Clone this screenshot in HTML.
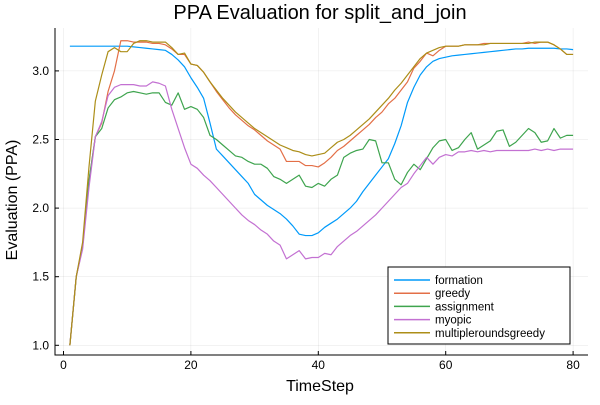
<!DOCTYPE html>
<html><head><meta charset="utf-8"><style>
body{margin:0;background:#fff}
svg{font-family:"Liberation Sans",sans-serif}
</style></head><body>
<svg id="chart" width="600" height="400" viewBox="0 0 600 400" xmlns="http://www.w3.org/2000/svg">
<rect width="600" height="400" fill="#fff"/>
<text x="320" y="19" font-size="20" text-anchor="middle" fill="#000">PPA Evaluation for split_and_join</text>
<g id="grid"></g>
<g id="axes"></g>
<g id="series"></g>
<text x="320" y="391" font-size="16" text-anchor="middle">TimeStep</text>
<text transform="translate(17,200) rotate(-90)" font-size="16" text-anchor="middle">Evaluation (PPA)</text>
<g id="legend"></g>
</svg>
<script>
const xTicks=[0,20,40,60,80];
const yTicks=[1.0,1.5,2.0,2.5,3.0];
const yTickLabels=["1.0","1.5","2.0","2.5","3.0"];
const seriesNames=["formation","greedy","assignment","myopic","multipleroundsgreedy"];
const seriesColors=["#009AFA","#E36F47","#3EA44E","#C371D2","#AC8E18"];
const formation=[3.18,3.18,3.18,3.18,3.18,3.18,3.18,3.18,3.18,3.18,3.175,3.17,3.165,3.16,3.155,3.15,3.12,3.08,3.03,2.95,2.88,2.80,2.62,2.43,2.38,2.33,2.28,2.23,2.18,2.10,2.06,2.02,1.99,1.96,1.92,1.87,1.81,1.80,1.80,1.82,1.86,1.89,1.92,1.96,2.00,2.05,2.12,2.18,2.24,2.30,2.36,2.47,2.60,2.77,2.88,2.97,3.03,3.07,3.09,3.10,3.11,3.115,3.12,3.125,3.13,3.135,3.14,3.145,3.15,3.155,3.16,3.16,3.165,3.165,3.165,3.165,3.165,3.16,3.16,3.155];
const greedy=[1.0,1.5,1.72,2.2,2.52,2.62,2.85,3.0,3.22,3.22,3.21,3.21,3.21,3.2,3.2,3.19,3.16,3.12,3.12,3.05,3.04,2.99,2.92,2.85,2.79,2.73,2.68,2.64,2.60,2.57,2.53,2.49,2.46,2.43,2.34,2.34,2.34,2.31,2.31,2.30,2.33,2.37,2.42,2.45,2.49,2.53,2.57,2.61,2.66,2.70,2.76,2.80,2.86,2.92,3.02,3.07,3.13,3.11,3.15,3.18,3.18,3.18,3.19,3.19,3.19,3.2,3.2,3.2,3.2,3.2,3.2,3.2,3.21,3.2,3.21,3.21,3.19,3.16,3.12,3.12];
const assignment=[1.0,1.5,1.72,2.2,2.52,2.58,2.73,2.79,2.81,2.84,2.85,2.84,2.83,2.84,2.84,2.77,2.75,2.84,2.72,2.74,2.72,2.66,2.53,2.50,2.46,2.42,2.38,2.37,2.34,2.32,2.32,2.29,2.23,2.21,2.18,2.21,2.24,2.16,2.15,2.18,2.16,2.21,2.24,2.37,2.40,2.42,2.43,2.50,2.49,2.33,2.33,2.21,2.17,2.26,2.32,2.28,2.36,2.44,2.49,2.50,2.42,2.44,2.50,2.55,2.43,2.46,2.49,2.56,2.57,2.45,2.48,2.53,2.58,2.55,2.48,2.49,2.58,2.51,2.53,2.53];
const myopic=[1.0,1.5,1.70,2.15,2.52,2.63,2.82,2.88,2.90,2.90,2.90,2.89,2.89,2.92,2.91,2.89,2.72,2.58,2.44,2.32,2.29,2.24,2.20,2.15,2.10,2.05,2.00,1.95,1.91,1.88,1.84,1.81,1.76,1.73,1.63,1.66,1.69,1.63,1.64,1.64,1.67,1.66,1.72,1.76,1.80,1.83,1.87,1.91,1.95,2.00,2.05,2.10,2.15,2.18,2.25,2.31,2.37,2.32,2.37,2.39,2.38,2.41,2.41,2.42,2.41,2.42,2.41,2.42,2.42,2.42,2.42,2.42,2.42,2.43,2.42,2.43,2.42,2.43,2.43,2.43];
const multipleroundsgreedy=[1.0,1.5,1.75,2.3,2.78,2.97,3.14,3.17,3.14,3.14,3.2,3.22,3.22,3.21,3.21,3.21,3.17,3.12,3.13,3.05,3.04,2.99,2.92,2.86,2.80,2.75,2.70,2.66,2.62,2.58,2.55,2.52,2.49,2.46,2.44,2.42,2.41,2.39,2.38,2.39,2.40,2.44,2.48,2.50,2.53,2.57,2.61,2.65,2.70,2.75,2.80,2.86,2.91,2.97,3.03,3.09,3.13,3.15,3.17,3.18,3.18,3.18,3.19,3.19,3.19,3.19,3.2,3.2,3.2,3.2,3.2,3.2,3.2,3.21,3.21,3.21,3.19,3.16,3.12,3.12];
const allSeries=[formation,greedy,assignment,myopic,multipleroundsgreedy];

const NS="http://www.w3.org/2000/svg";
const L=55,R=588,T=28,B=355;
function xs(t){return 63.5+6.37*t;}
function ys(v){return 345.3-(v-1)*137.2;}
function mk(tag,attrs,parent){const e=document.createElementNS(NS,tag);for(const k in attrs)e.setAttribute(k,attrs[k]);parent.appendChild(e);return e;}
const grid=document.getElementById('grid'),axes=document.getElementById('axes'),ser=document.getElementById('series'),leg=document.getElementById('legend');
xTicks.forEach((t)=>{
  const g=mk('line',{x1:xs(t),x2:xs(t),y1:T,y2:B,stroke:'#000','stroke-opacity':0.1,'stroke-width':0.5},grid);
  
  
  const tk=mk('line',{x1:xs(t),x2:xs(t),y1:B,y2:B-4,stroke:'#000','stroke-width':1},axes);
  
  
  const lb=mk('text',{x:xs(t),y:B+14,'font-size':12,'text-anchor':'middle'},axes);
  lb.textContent=t;
  
  
});
yTicks.forEach((v,i)=>{
  const g=mk('line',{x1:L,x2:R,y1:ys(v),y2:ys(v),stroke:'#000','stroke-opacity':0.1,'stroke-width':0.5},grid);
  
  
  const tk=mk('line',{x1:L,x2:L+4,y1:ys(v),y2:ys(v),stroke:'#000','stroke-width':1},axes);
  
  
  const lb=mk('text',{x:L-6,y:ys(v)+4,'font-size':12,'text-anchor':'end'},axes);
  lb.textContent=yTickLabels[i];
  
  
});
const ax=mk('path',{d:`M${L},${T} V${B} H${R}`,fill:'none',stroke:'#000','stroke-width':1},axes);


allSeries.forEach((arr,si)=>{
  const d=arr.map((v,i)=>(i?'L':'M')+xs(i+1).toFixed(2)+','+ys(v).toFixed(2)).join(' ');
  const p=mk('path',{d:d,fill:'none',stroke:seriesColors[si],'stroke-width':1.2,'stroke-linejoin':'round'},ser);
  
  
});
const box=mk('rect',{x:388,y:267,width:182,height:77,fill:'#fff',stroke:'#000','stroke-width':1},leg);


seriesNames.forEach((n,i)=>{
  const y=280+i*13.2;
  const ln=mk('line',{x1:394,x2:430,y1:y,y2:y,stroke:seriesColors[i],'stroke-width':1.5},leg);
  
  
  const tx=mk('text',{x:435,y:y+4,'font-size':11.5},leg);
  tx.textContent=n;
  
  
});
</script>
</body></html>
